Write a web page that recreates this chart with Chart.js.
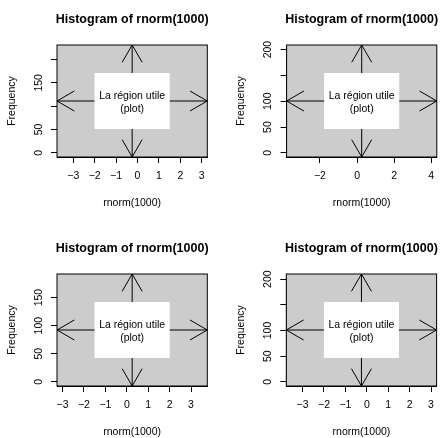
<!DOCTYPE html>
<html><head><meta charset="utf-8">
<script src="https://cdn.jsdelivr.net/npm/chart.js@4"></script>
<style>
html,body{margin:0;padding:0;background:#fff;}
#wrap{position:relative;width:441px;height:438px;overflow:hidden;background:#fff;}
canvas{position:absolute;}
</style></head><body>
<div id="wrap">
<canvas id="c1" width="220" height="219" style="left:0;top:0"></canvas>
<canvas id="c2" width="221" height="219" style="left:220px;top:0"></canvas>
<canvas id="c3" width="220" height="219" style="left:0;top:219px"></canvas>
<canvas id="c4" width="221" height="219" style="left:220px;top:219px"></canvas>
</div>
<script>
// ---- text ----
const chartTitle = 'Histogram of rnorm(1000)';
const xAxisTitle = 'rnorm(1000)';
const yAxisTitle = 'Frequency';
const regionLabel = ['La région utile', '(plot)'];

// ---- axis ranges (plot region limits) per panel ----
const xMinValues = [-3.76, -3.8, -3.26, -3.76];
const xMaxValues = [3.26, 4.3, 3.76, 3.26];
const yMinValues = [-8.9, -8.0, -7.4, -8.1];
const yMaxValues = [231, 208.8, 192, 210];

// ---- ticks ----
const xTicksFull = [-3, -2, -1, 0, 1, 2, 3];
const xTickLabelsFull = ['−3', '−2', '−1', '0', '1', '2', '3'];
const xTicksEven = [-2, 0, 2, 4];
const xTickLabelsEven = ['−2', '0', '2', '4'];
const yTicksTo200 = [0, 50, 100, 150, 200];
const yTicksTo150 = [0, 50, 100, 150];
const yTickLabels1 = ['0', '50', '', '150', ''];
const yTickLabels2 = ['0', '50', '100', '', '200'];
const yTickLabels3 = ['0', '50', '100', '150'];
const yTickLabels4 = ['0', '50', '100', '', '200'];

const panelData = [
  {xMin: xMinValues[0], xMax: xMaxValues[0], yMin: yMinValues[0], yMax: yMaxValues[0], xTicks: xTicksFull, xLabels: xTickLabelsFull, yTicks: yTicksTo200, yLabels: yTickLabels1},
  {xMin: xMinValues[1], xMax: xMaxValues[1], yMin: yMinValues[1], yMax: yMaxValues[1], xTicks: xTicksEven, xLabels: xTickLabelsEven, yTicks: yTicksTo200, yLabels: yTickLabels2},
  {xMin: xMinValues[2], xMax: xMaxValues[2], yMin: yMinValues[2], yMax: yMaxValues[2], xTicks: xTicksFull, xLabels: xTickLabelsFull, yTicks: yTicksTo150, yLabels: yTickLabels3},
  {xMin: xMinValues[3], xMax: xMaxValues[3], yMin: yMinValues[3], yMax: yMaxValues[3], xTicks: xTicksFull, xLabels: xTickLabelsFull, yTicks: yTicksTo200, yLabels: yTickLabels4}
];

// ---- layout / style (plot region box inside each canvas) ----
const H = 219;
const panelBoxes = [
  {id: 'c1', w: 220, left: 57,   right: 207.3, top: 45, bottom: 157},
  {id: 'c2', w: 221, left: 66.6, right: 216.9, top: 45, bottom: 157},
  {id: 'c3', w: 220, left: 57,   right: 207.3, top: 55, bottom: 167},
  {id: 'c4', w: 221, left: 66.3, right: 216.6, top: 55, bottom: 167}
];
const FAMILY = '"Liberation Sans", Arial, Helvetica, sans-serif';
const TXT = 10.5, TITLE = 12.5;
Chart.defaults.font.family = FAMILY;
Chart.defaults.color = '#000';

const regionPlugin = {
  id: 'region',
  afterLayout(chart) {
    const t = chart.titleBlock;
    if (t) { t.left -= 20; t.right += 20; }
  },
  beforeDatasetsDraw(chart) {
    const ctx = chart.ctx;
    const xs = chart.scales.x, ys = chart.scales.y;
    const xl = xs.getPixelForValue(xs.min), xr = xs.getPixelForValue(xs.max);
    const yb = ys.getPixelForValue(ys.min), yt = ys.getPixelForValue(ys.max);
    const cx = xs.getPixelForValue((xs.min + xs.max) / 2);
    const cy = ys.getPixelForValue((ys.min + ys.max) / 2);
    ctx.save();
    ctx.fillStyle = '#CCCCCC';
    ctx.fillRect(xl, yt, xr - xl, yb - yt);
    ctx.strokeStyle = '#000';
    ctx.lineWidth = 1;
    const head = 20, ang = Math.PI / 6;
    const arrow = (x1, y1) => {
      ctx.beginPath();
      ctx.moveTo(cx, cy); ctx.lineTo(x1, y1);
      const a = Math.atan2(y1 - cy, x1 - cx);
      ctx.moveTo(x1 - head * Math.cos(a - ang), y1 - head * Math.sin(a - ang));
      ctx.lineTo(x1, y1);
      ctx.lineTo(x1 - head * Math.cos(a + ang), y1 - head * Math.sin(a + ang));
      ctx.stroke();
    };
    arrow(xl, cy); arrow(xr, cy); arrow(cx, yt); arrow(cx, yb);
    const qx1 = xs.getPixelForValue(xs.min + (xs.max - xs.min) * 0.25);
    const qx2 = xs.getPixelForValue(xs.min + (xs.max - xs.min) * 0.75);
    const qy1 = ys.getPixelForValue(ys.min + (ys.max - ys.min) * 0.75);
    const qy2 = ys.getPixelForValue(ys.min + (ys.max - ys.min) * 0.25);
    ctx.fillStyle = '#FFFFFF';
    ctx.fillRect(qx1, qy1, qx2 - qx1, qy2 - qy1);
    ctx.fillStyle = '#000';
    ctx.font = TXT + 'px ' + FAMILY;
    ctx.textAlign = 'center';
    ctx.textBaseline = 'middle';
    const lh = TXT * 1.2;
    ctx.fillText(regionLabel[0], cx, cy - lh / 2 + 1.5);
    ctx.fillText(regionLabel[1], cx, cy + lh / 2 + 1.5);
    ctx.restore();
  },
  afterDraw(chart) {
    const a = chart.chartArea, ctx = chart.ctx;
    ctx.save();
    ctx.strokeStyle = '#000';
    ctx.lineWidth = 1;
    ctx.strokeRect(a.left, a.top, a.right - a.left, a.bottom - a.top);
    ctx.restore();
  }
};

panelBoxes.forEach((b, i) => {
  const d = panelData[i];
  const padTop = b.top - 33;
  new Chart(document.getElementById(b.id), {
    type: 'scatter',
    data: {datasets: []},
    plugins: [regionPlugin],
    options: {
      responsive: false,
      animation: false,
      devicePixelRatio: 1,
      layout: {padding: {top: padTop, right: b.w - b.right, bottom: 0, left: 0}},
      plugins: {
        legend: {display: false},
        tooltip: {enabled: false},
        title: {
          display: true, text: chartTitle, fullSize: false, color: '#000',
          font: {size: TITLE, weight: 'bold', family: FAMILY, lineHeight: 1.2},
          padding: {top: 0, bottom: 18}
        }
      },
      scales: {
        x: {
          type: 'linear', position: 'bottom', min: d.xMin, max: d.xMax,
          afterFit: s => { s.height = H - b.bottom; },
          afterBuildTicks: s => { s.ticks = d.xTicks.map(v => ({value: v})); },
          ticks: {autoSkip: false, maxRotation: 0, minRotation: 0, padding: 6.7, color: '#000',
                  font: {size: TXT}, callback: (v, idx) => d.xLabels[idx]},
          grid: {drawOnChartArea: false, drawTicks: true, tickLength: 6, color: '#000', lineWidth: 1},
          border: {display: true, color: '#000', width: 1},
          title: {display: true, text: xAxisTitle, color: '#000', font: {size: TXT},
                  padding: {top: 0, bottom: Math.max(0, H - (b.bottom + 45.7) - TXT * 0.6)}}
        },
        y: {
          type: 'linear', position: 'left', min: d.yMin, max: d.yMax,
          afterFit: s => { s.width = b.left; },
          afterBuildTicks: s => { s.ticks = d.yTicks.map(v => ({value: v})); },
          ticks: {autoSkip: false, minRotation: 90, maxRotation: 90, crossAlign: 'center', padding: 3.5,
                  color: '#000', font: {size: TXT}, callback: (v, idx) => d.yLabels[idx]},
          grid: {drawOnChartArea: false, drawTicks: true, tickLength: 6, color: '#000', lineWidth: 1},
          border: {display: true, color: '#000', width: 1},
          title: {display: true, text: yAxisTitle, color: '#000', font: {size: TXT},
                  padding: {top: b.left - 45 - TXT * 0.6, bottom: 0}}
        }
      }
    }
  });
});
</script>
</body></html>
